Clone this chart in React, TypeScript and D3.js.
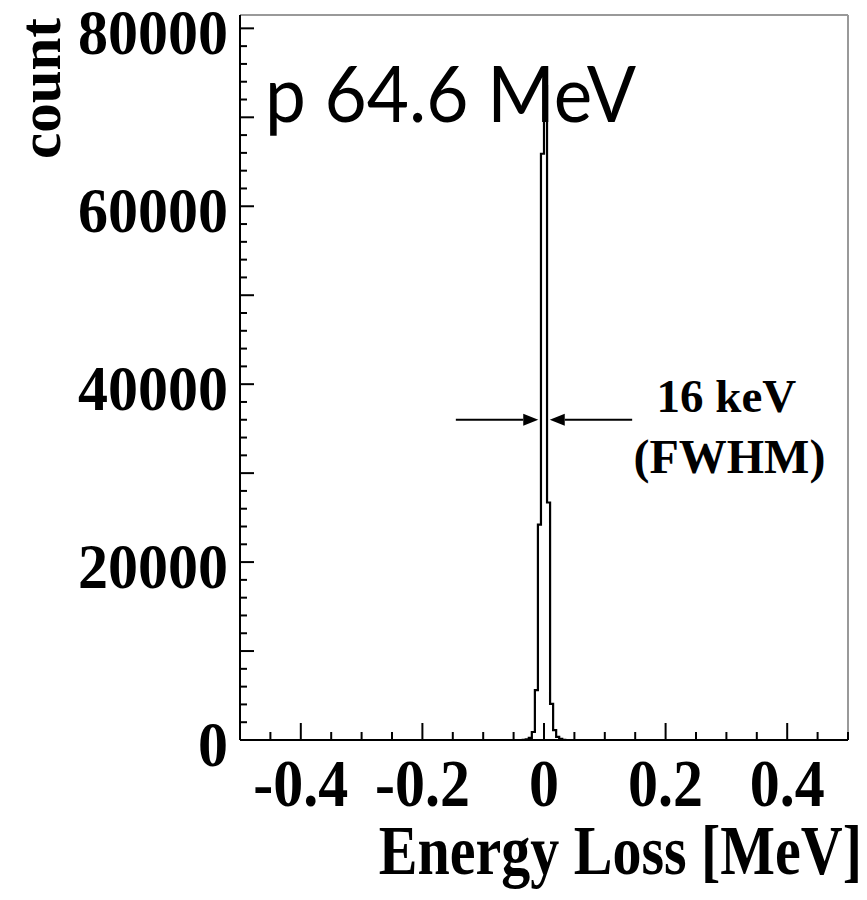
import React from "react";
import * as d3 from "d3";

// ---- data ----
const binLow = [-0.035, -0.03, -0.025, -0.02, -0.015, -0.01, -0.005, 0, 0.005, 0.01, 0.015, 0.02, 0.025, 0.03];
const binWidth = 0.005;
const counts = [20, 80, 250, 900, 5600, 24200, 65900, 73500, 26700, 4050, 1100, 350, 120, 30];
const xTickLabels = ["-0.4", "-0.2", "0", "0.2", "0.4"];
const xTickValues = [-0.4, -0.2, 0, 0.2, 0.4];
const yTickLabels = ["0", "20000", "40000", "60000", "80000"];
const yTickValues = [0, 20000, 40000, 60000, 80000];
const xDomain = [-0.5, 0.5];
const yDomain = [0, 81500];
const title = "p 64.6 MeV";
const xTitle = "Energy Loss [MeV]";
const yTitle = "count";
const fwhmText = ["16 keV", "(FWHM)"];
const arrowY = 36000;
const arrowLeft = [-0.145, -0.0095];
const arrowRight = [0.145, 0.0095];
const fwhmTextX = 0.305;

const W = 867, H = 900;
const L = 240, R = 848, T = 15, B = 740;
const serif = "'Liberation Serif', 'Times New Roman', serif";

export default function App() {
  const x = d3.scaleLinear().domain(xDomain).range([L, R]);
  const y = d3.scaleLinear().domain(yDomain).range([B, T]);

  const pts: [number, number][] = binLow.map((b, i) => [b, counts[i]]);
  pts.push([binLow[binLow.length - 1] + binWidth, 0]);
  const line = d3.line<[number, number]>().x(d => x(d[0])).y(d => y(d[1])).curve(d3.curveStepAfter);
  const histPath = line([[binLow[0], 0], ...pts]) || "";

  const xMinor = d3.range(-10, 11).map(i => i * 0.05);
  const yMinor = d3.range(0, 41).map(i => i * 2000);

  const arrow = (from: number, to: number, key: string) => {
    const x0 = x(from), x1 = x(to), yy = y(arrowY);
    const dir = Math.sign(x1 - x0);
    const hl = 15, hw = 6;
    return (
      <g key={key}>
        <line x1={x0} y1={yy} x2={x1 - dir * hl} y2={yy} stroke="#000" strokeWidth={2} />
        <path d={`M${x1},${yy}L${x1 - dir * hl},${yy - hw}L${x1 - dir * hl},${yy + hw}Z`} fill="#000" />
      </g>
    );
  };

  return (
    <>
      <style>{`body{margin:0}`}</style>
      <svg width={W} height={H} style={{ display: "block", background: "#fff" }}>
        {/* frame top/right */}
        <line x1={L} y1={T} x2={R} y2={T} stroke="#777" strokeWidth={1.5} />
        <line x1={R} y1={T} x2={R} y2={B} stroke="#999" strokeWidth={2} />
        {/* title */}
        <text x={265} y={122} fontFamily="'URW Gothic', 'Century Gothic', Lato, 'Noto Sans', sans-serif" fontSize={78}
          textLength={371} lengthAdjust="spacingAndGlyphs">{title}</text>
        {/* histogram */}
        <path d={histPath} fill="none" stroke="#000" strokeWidth={2.2} />
        {/* axes */}
        <line x1={L} y1={T} x2={L} y2={B} stroke="#000" strokeWidth={2} />
        <line x1={L} y1={B} x2={R} y2={B} stroke="#000" strokeWidth={2} />
        {xMinor.map((v, i) => {
          const major = Math.abs(Math.round(v * 100) % 20) === 0 && Math.abs(v) < 0.49;
          return <line key={"xt" + i} x1={x(v)} x2={x(v)} y1={B} y2={B - (major ? 17 : 8)} stroke="#000" strokeWidth={2} />;
        })}
        {yMinor.map((v, i) => {
          const major = v % 10000 === 0;
          return <line key={"yt" + i} x1={L} x2={L + (major ? 14 : 7)} y1={y(v)} y2={y(v)} stroke="#000" strokeWidth={2} />;
        })}
        {xTickValues.map((v, i) => (
          <text key={"xl" + i} transform={`translate(${x(v)},806) scale(1,1.12)`} textAnchor="middle"
            fontFamily={serif} fontWeight="bold" fontSize={60}>{xTickLabels[i]}</text>
        ))}
        {yTickValues.map((v, i) => (
          <text key={"yl" + i} transform={`translate(228,${y(v) + 26}) scale(1,1.05)`} textAnchor="end"
            fontFamily={serif} fontWeight="bold" fontSize={60}>{yTickLabels[i]}</text>
        ))}
        <text transform="translate(862,874) scale(1,1.2)" textAnchor="end" fontFamily={serif} fontWeight="bold" fontSize={58}>{xTitle}</text>
        <text transform="translate(60,18) rotate(-90)" textAnchor="end" fontFamily={serif} fontWeight="bold" fontSize={59}>{yTitle}</text>
        {/* FWHM annotation */}
        {arrow(arrowLeft[0], arrowLeft[1], "al")}
        {arrow(arrowRight[0], arrowRight[1], "ar")}
        <text x={x(fwhmTextX) - 3} y={412} textAnchor="middle" fontFamily={serif} fontWeight="bold" fontSize={47}>{fwhmText[0]}</text>
        <text x={x(fwhmTextX)} y={473} textAnchor="middle" fontFamily={serif} fontWeight="bold" fontSize={48}>{fwhmText[1]}</text>
      </svg>
    </>
  );
}
